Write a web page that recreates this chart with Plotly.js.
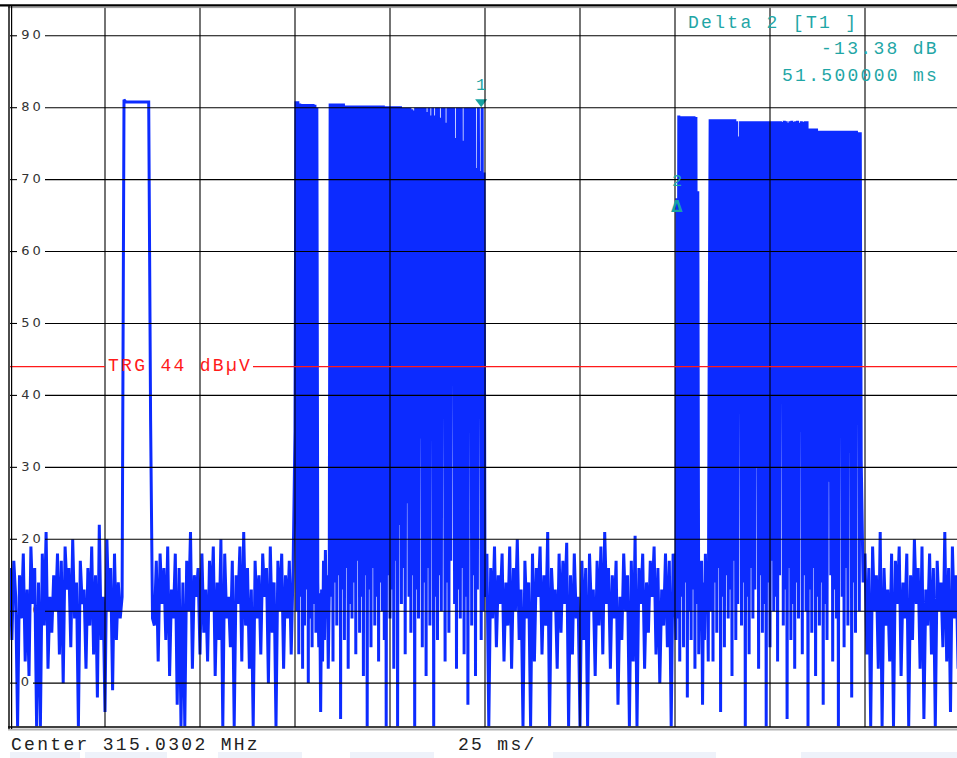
<!DOCTYPE html>
<html><head><meta charset="utf-8">
<script src="https://cdn.plot.ly/plotly-3.0.1.min.js"></script>
<style>html,body{margin:0;padding:0;overflow:hidden;background:#fff;width:957px;height:758px}#chart{width:962px;height:758px}</style>
</head><body><div id="chart"></div>
<script>
// ---- data (dBµV), zero span sweep 250 ms ----
const noiseA = [16,6,17,12,-6,15,9,18,3,13, 1,19,11,16,-6,14,-6,18,8,21, 2,12,7,15,10,18,4,17,0,19, 13,16,5,20,9,14,-6,17,11,13, 2,16,8,19,4,15,-2,22,6,12, -4,20,10,16,-1,18,6,14,9,12];
const pulse0 = [81.1,80.8,80.8,80.8,80.8,80.8,80.8,80.8,80.8,80.8,80.8,80.8,80.8,80.8,36.5,9];
const noiseB = [8,17,3,18,11,16,6,19,1,13, 9,18,-3,16,-6,14,-6,17,10,21, 2,15,12,16,4,18,7,13,3,17, 10,19,1,14,6,20,-6,18,9,12, 5,17,-6,15,11,19,3,21,8,16, 2,13,-6,17,9,15,4,18,12,16, 0,19,7,14,-6,17,10,18,2,15, 9,17,4,16];
const trainALead = [35];
const trainA1Top = [80.9,80.9,80.6,80.5,80.5,80.5,80.5,80.5,80.5,80.5,80.4,80.0];
const trainA1Floor = [10,4,12,2,8,13,0,9,5,11,7];
const trainAGap = [14,5,12.5,-4,13,3,17,6,18.5,9,15,2,12];
const trainA2Top = [80.6,80.6,80.6,80.6,80.6,80.6,80.6,80.6,
  80.3,80.3,80.3,80.3,80.3,80.3,80.3,80.3,80.3,80.3,80.3,80.3,80.3,80.3,80.3,80.3,80.3,80.3,80.3,80.3,80.3,
  80.2,80.2,80.2,80.2,80.2,80.2,80.2,80.2,80.2,
  80,80,80,80,80,79.8,79.6,80,80,80,80,80,80,79.4,80,78.9,80,78.9,80,80,78.6,80,80,77.9,80,80,80,80,75.8,80,80,80,75.4,80,80,80,80,80,80,71.6,80,71.2,80];
const trainA2Floor = [12,3,14,8,15,-5,13,6,16,2, 11,9,14,4,17,7,12,1,15,-6, 13,5,16,8,12,3,14,10,6,-6, 15,9,13,2,17,-6,22,11,16,4, 25,12,7,15,-6,13,9,34,5,14, 1,16,8,38,-6,12,6,15,10,48, 3,14,7,17,48,11,2,13,9,16, 4,12,-3,48,8,15,1,13,45,6, 10];
const trainATail = [71];
const noiseC = [12,18,-6,16,9,19,5,15,11,18, 3,14,8,19,2,16,10,20,6,13, -6,17,9,14,-6,18,3,16,12,19, 4,15,8,21,-6,16,10,13,2,18, 7,17,11,19.5,-6,15,4,18,9,12, -6,17,6,16,-6,18,10,13,1,17, 8,19,4,21,11,16,2,15,9,17, -3,12,6,18,10,15,-6,17,3,20.5, -6,16,11,18,2,14,7,17,12,19, 4,16,0,13,8,18,5,17,-6,18, 12];
const trainBLead = [6,67.4,9];
const trainB1Top = [78.9,78.8,78.8,78.8,78.8,78.8,78.8,78.8,78.8,78.7];
const trainB1Floor = [3,12,5,14,-2,10,6,13,2,11];
const trainB1Tail = [68.4];
const trainBGap = [4,15,8,17,-3,14,6,18,10,16,3];
const trainB2Lead = [47];
const trainB2Top = [78.4,78.4,78.4,78.4,78.4,78.4,78.4,78.4,78.4,78.4,78.4,78.4,78.4,78.4,
  78.1,76.0,
  78.1,78.1,78.1,78.1,78.1,78.1,78.1,78.1,78.1,78.1,78.1,78.1,78.1,78.1,78.1,78.1,78.1,78.1,78.1,78.1,78.1,78.1,
  78.0,78.2,78.1,77.9,78.1,78.2,78.0,78.1,78.2,77.9,78.1,78.0,78.1,78.1,
  77.1,77.1,77.1,77.1,77.1,
  76.8,76.8,76.8,76.8,76.8,76.8,76.8,76.8,76.8,76.8,76.8,76.8,76.8,76.8,76.8,76.8,76.8,76.8,76.8,76.8,76.8,
  76.6,76.6];
const trainB2Floor = [10,3,14,7,16,-4,12,5,15,9, 13,1,17,6,11,42,8,14,-6,12, 4,16,9,13,30,2,15,7,11,-6, 14,5,17,10,12,3,15,40,8,13, -5,16,6,11,2,14,9,35,4,15, 10,-6,13,7,16,1,12,8,14,-3, 11,6,28,15,3,13,9,-6,45,12, 5,16,8,32,-2,14,7,36,10,31];
const noiseD = [14,18,4,16,-6,19,10,15,2,21, -6,16,8,13,3,18,-6,17,11,19, 1,14,9,18,-6,15,6,20,11,16, 2,19,-5,13,8,18,4,16,-6,17, 10,14,5,21,3,16,-4,19,9,15, 2,17];

const markerTime = [124, 175.5];      // ms
const markerLevel = [80.8, 67.4];     // dBµV
const triggerLevel = 44;
const timeGrid = [25,50,75,100,125,150,175,200,225];
const levelGrid = [0,10,20,30,40,50,60,70,80,90];
const levelLabels = ['0','10','20','30','40','50','60','70','80','90'];

function interleave(a, b) {
  const out = [];
  for (let i = 0; i < Math.max(a.length, b.length); i++) {
    if (i < a.length) out.push(a[i]);
    if (i < b.length) out.push(b[i]);
  }
  return out;
}
const trainA = [].concat(trainALead, interleave(trainA1Top, trainA1Floor), trainAGap, interleave(trainA2Top, trainA2Floor), trainATail);
const trainB = [].concat(trainBLead, interleave(trainB1Top, trainB1Floor), trainB1Tail, trainBGap, trainB2Lead, interleave(trainB2Top, trainB2Floor));

// [start ms, sample spacing ms, values]
const segments = [[0,0.5,noiseA],[30,0.5,pulse0],[38,0.5,noiseB],[75,0.25,trainA],[125,0.5,noiseC],[175.25,0.25,trainB],[224.5,0.5,noiseD]];
const times = [], levels = [];
segments.forEach(([s, dt, vals]) => vals.forEach((v, i) => { times.push(s + i*dt); levels.push(v); }));

// ---- layout helpers (pixel -> paper / ms) ----
const L = 10, T = 7, W = 950, H = 720;
const px = x => (x - L) / W;
const py = y => (T + H - y) / H;
const pxToMs = x => (x - L) / W * 250;
const TEAL = '#1fa6a6';
const MONO = 'Liberation Mono, Courier New, monospace';
const sp = (t, s) => '<span style="letter-spacing:' + s + 'px">' + t + '</span>';

const shapes = [];
timeGrid.forEach(t => shapes.push({type:'line', xref:'x', yref:'paper', x0:t, x1:t, y0:0, y1:py(7), line:{color:'#000', width:1.1}, layer:'above'}));
levelGrid.forEach((v, i) => {
  const gapEnd = levelLabels[i].length > 1 ? 45 : 33;
  shapes.push({type:'line', xref:'paper', yref:'y', x0:0, x1:px(17), y0:v, y1:v, line:{color:'#000', width:1.1}, layer:'above'});
  shapes.push({type:'line', xref:'paper', yref:'y', x0:px(gapEnd), x1:1.01, y0:v, y1:v, line:{color:'#000', width:1.1}, layer:'above'});
});
shapes.push({type:'line', xref:'paper', yref:'y', x0:0, x1:px(105), y0:triggerLevel, y1:triggerLevel, line:{color:'#ff1a1a', width:1.2}, layer:'above'});
shapes.push({type:'line', xref:'paper', yref:'y', x0:px(253), x1:1.01, y0:triggerLevel, y1:triggerLevel, line:{color:'#ff1a1a', width:1.2}, layer:'above'});
// frame
shapes.push({type:'line', xref:'paper', yref:'paper', x0:px(0), x1:px(962), y0:py(5.3), y1:py(5.3), line:{color:'#000', width:2.2}, layer:'above'});
shapes.push({type:'line', xref:'paper', yref:'paper', x0:px(8), x1:px(962), y0:py(7.6), y1:py(7.6), line:{color:'#9a9a9a', width:1}, layer:'above'});
shapes.push({type:'line', xref:'paper', yref:'paper', x0:px(8), x1:px(962), y0:py(727), y1:py(727), line:{color:'#000', width:1.6}, layer:'above'});
shapes.push({type:'line', xref:'paper', yref:'paper', x0:px(8), x1:px(962), y0:py(729.5), y1:py(729.5), line:{color:'#b4b4b4', width:2}, layer:'above'});
shapes.push({type:'line', xref:'paper', yref:'paper', x0:px(9), x1:px(9), y0:py(5), y1:py(729), line:{color:'#000', width:1.4}, layer:'above'});
shapes.push({type:'line', xref:'paper', yref:'paper', x0:px(11.6), x1:px(11.6), y0:py(5), y1:py(729), line:{color:'#000', width:1.2}, layer:'above'});
[[10,80],[85,167],[218,302],[350,434],[553,716],[801,957]].forEach(([a,b]) => shapes.push({type:'rect', xref:'paper', yref:'paper', x0:px(a), x1:px(b), y0:py(752), y1:py(758), fillcolor:'#eef2fa', line:{width:0}, layer:'below'}));

const annotations = [];
const txt = (t, x, y, xa, color) => ({xref:'paper', yref:'paper', x:px(x), y:py(y), xanchor:xa, yanchor:'middle', text:sp(t, 2.3), showarrow:false, borderpad:0, font:{family:MONO, size:18, color:color}});
annotations.push(txt('Delta 2 [T1 ]', 686.5, 22.5, 'left', TEAL));
annotations.push(txt('-13.38 dB', 940, 49, 'right', TEAL));
annotations.push(txt('51.500000 ms', 940, 75.7, 'right', TEAL));
annotations.push(txt('TRG ' + triggerLevel + ' dBµV', 107, 365.5, 'left', '#ff1a1a'));
annotations.push(txt('Center 315.0302 MHz', 10, 745, 'left', '#222'));
annotations.push(txt('25 ms/', 457, 745, 'left', '#222'));
annotations.push({xref:'x', yref:'y', x:markerTime[0], y:markerLevel[0], yshift:16, text:'1', showarrow:false, font:{family:MONO, size:17, color:TEAL}});
annotations.push({xref:'x', yref:'y', x:markerTime[1], y:markerLevel[1], yshift:17, text:'2', showarrow:false, font:{family:MONO, size:17, color:TEAL}});
annotations.push({xref:'x', yref:'y', x:markerTime[1], y:markerLevel[1], yshift:-9, text:'<b>Δ</b>', showarrow:false, font:{family:'DejaVu Sans, sans-serif', size:15, color:'#17a2a2'}});

const traces = [
  // level scale labels sit underneath the trace, as on the analyzer screen
  {x:levelLabels.map(s => pxToMs(s.length > 1 ? 32.5 : 26.5)), y:levelGrid, type:'scatter', mode:'text',
   text:levelLabels.map(s => sp(s, 3)), textposition:'middle center', cliponaxis:false,
   textfont:{family:'DejaVu Sans, sans-serif', size:13, color:'#333'}, hoverinfo:'skip'},
  {x:times, y:levels, type:'scatter', mode:'lines', line:{color:'#0c2bff', width:3, simplify:false}, hoverinfo:'skip'},
  {x:[markerTime[0]], y:[markerLevel[0]], type:'scatter', mode:'markers', marker:{symbol:'triangle-down', size:10.5, color:'#17a2a2'}, hoverinfo:'skip'}
];

const layout = {
  width:962, height:758,
  margin:{l:L, r:962-L-W, t:T, b:758-T-H, pad:0},
  paper_bgcolor:'#fff', plot_bgcolor:'#fff',
  showlegend:false,
  xaxis:{range:[0,250], showgrid:false, zeroline:false, showticklabels:false, ticks:'', showline:false, fixedrange:true},
  yaxis:{range:[-6.1,94], showgrid:false, zeroline:false, showticklabels:false, ticks:'', showline:false, fixedrange:true},
  shapes:shapes, annotations:annotations
};
Plotly.newPlot('chart', traces, layout, {staticPlot:true, displayModeBar:false});
</script></body></html>
